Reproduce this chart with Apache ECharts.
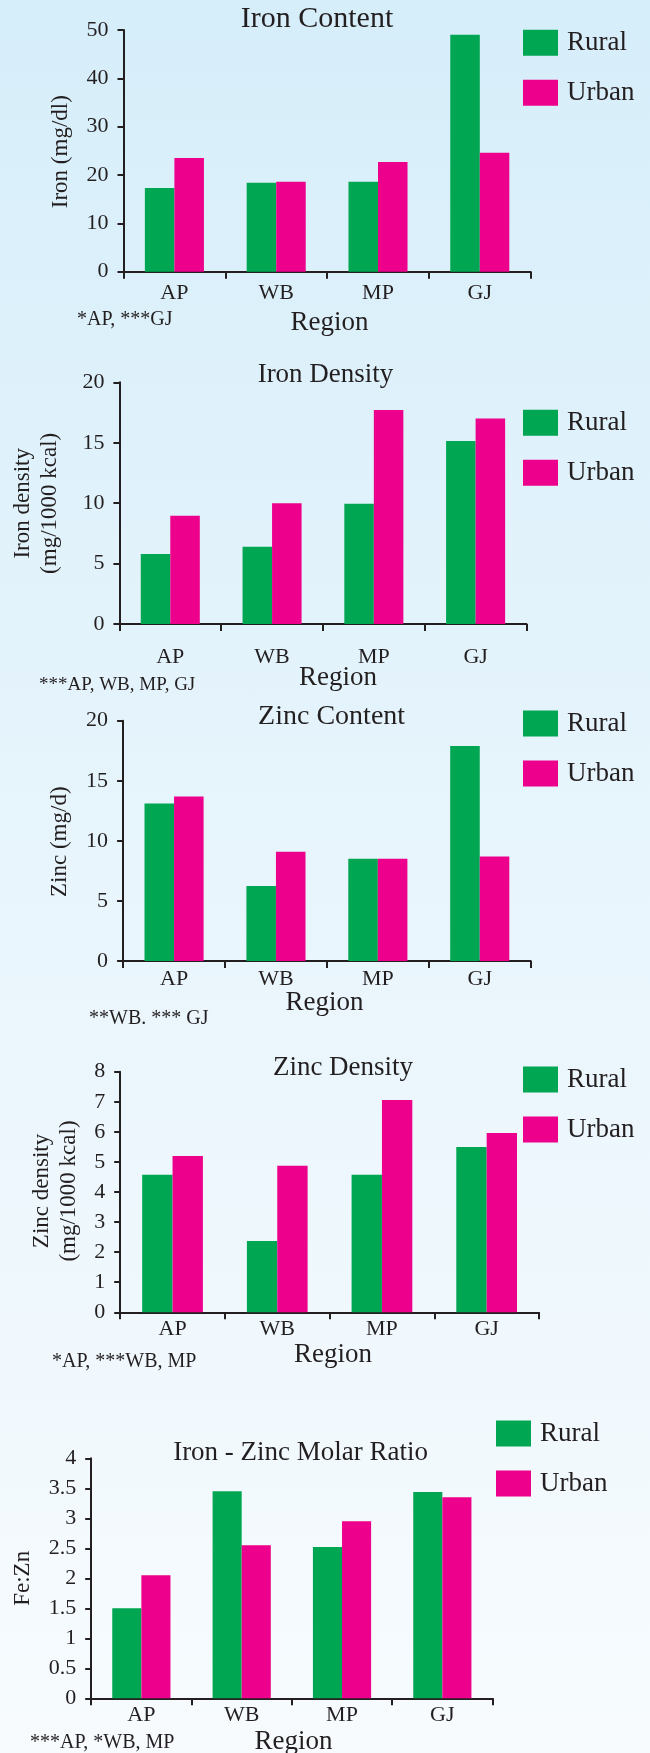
<!DOCTYPE html>
<html>
<head>
<meta charset="utf-8">
<script src="https://cdn.jsdelivr.net/npm/echarts@6/dist/echarts.min.js"></script>
<style>
  html, body { margin: 0; padding: 0; }
  body { width: 650px; height: 1753px; background: linear-gradient(to bottom, #d6eefa 0%, #e8f5fc 50%, #f7fbfe 100%); }
  #chart { width: 650px; height: 1753px; }
</style>
</head>
<body>
<div id="chart"></div>
<script>
// ---- data ----
const regions = ['AP', 'WB', 'MP', 'GJ'];
const seriesNames = ['Rural', 'Urban'];

const ironContentRural = [17.3, 18.4, 18.6, 49.0];
const ironContentUrban = [23.5, 18.6, 22.7, 24.6];

const ironDensityRural = [5.8, 6.4, 9.95, 15.15];
const ironDensityUrban = [8.95, 10.0, 17.7, 17.0];

const zincContentRural = [13.1, 6.25, 8.5, 17.9];
const zincContentUrban = [13.7, 9.1, 8.5, 8.7];

const zincDensityRural = [4.57, 2.37, 4.57, 5.5];
const zincDensityUrban = [5.2, 4.87, 7.06, 5.96];

const ratioRural = [1.5, 3.45, 2.52, 3.44];
const ratioUrban = [2.05, 2.55, 2.95, 3.35];

const titles = ['Iron Content', 'Iron Density', 'Zinc Content', 'Zinc Density', 'Iron - Zinc Molar Ratio'];
const yNames = ['Iron (mg/dl)', 'Iron density\n(mg/1000 kcal)', 'Zinc (mg/d)', 'Zinc density\n(mg/1000 kcal)', 'Fe:Zn'];
const xName = 'Region';
const footnotes = ['*AP, ***GJ', '***AP, WB, MP, GJ', '**WB. *** GJ', '*AP, ***WB, MP', '***AP, *WB, MP'];
const yMax = [50, 20, 20, 8, 4];
const yStep = [10, 5, 5, 1, 0.5];

const ruralData = [ironContentRural, ironDensityRural, zincContentRural, zincDensityRural, ratioRural];
const urbanData = [ironContentUrban, ironDensityUrban, zincContentUrban, zincDensityUrban, ratioUrban];

// ---- layout (positions / styles only) ----
const layout = [
  { grid: [123.5, 30, 407.2, 241.7], title: [317, 19, 30], legend: [523, 29.3], labelMargin: 11,
    region: [329.6, 323.3], foot: [77, 320, 20], yName: [61, 151.7] },
  { grid: [119.4, 382.3, 407.1, 241.7], title: [325.5, 375, 27], legend: [523, 409.3], labelMargin: 22,
    region: [338, 678.3], foot: [39, 685, 19], yName: [36.3, 503.3] },
  { grid: [123.1, 720.7, 407.6, 240.3], title: [331.6, 716.7, 28], legend: [523, 710], labelMargin: 7,
    region: [324.6, 1003.3], foot: [89, 1018.3, 20], yName: [60, 841.7] },
  { grid: [120.2, 1071.7, 418.8, 240.6], title: [343, 1068.3, 27], legend: [523, 1066], labelMargin: 6,
    region: [333, 1355], foot: [52, 1361.7, 20], yName: [55, 1191] },
  { grid: [91.2, 1458.3, 401.3, 240], title: [300.6, 1453.3, 27], legend: [496, 1420], labelMargin: 6,
    region: [293.5, 1741.7], foot: [30, 1743, 20], yName: [22.8, 1578.3] }
];

const FONT = "'Liberation Serif', 'Times New Roman', serif";
const INK = '#231f20';
const GREEN = '#00a651';
const MAGENTA = '#ec008c';

const grids = [], xAxes = [], yAxes = [], series = [], legends = [], graphics = [];

layout.forEach((L, i) => {
  grids.push({ left: L.grid[0], top: L.grid[1], width: L.grid[2], height: L.grid[3], containLabel: false });
  xAxes.push({
    type: 'category', gridIndex: i, data: regions,
    axisLine: { lineStyle: { color: INK, width: 2 } },
    axisTick: { show: true, length: 7, lineStyle: { color: INK, width: 2 } },
    axisLabel: { color: INK, fontFamily: FONT, fontSize: 22, margin: L.labelMargin }
  });
  yAxes.push({
    type: 'value', gridIndex: i, min: 0, max: yMax[i], interval: yStep[i],
    axisLine: { show: true, lineStyle: { color: INK, width: 2 } },
    axisTick: { show: true, length: 6, lineStyle: { color: INK, width: 2 } },
    splitLine: { show: false },
    axisLabel: { color: INK, fontFamily: FONT, fontSize: 22, margin: 15 }
  });
  series.push({
    name: seriesNames[0], type: 'bar', xAxisIndex: i, yAxisIndex: i, data: ruralData[i],
    itemStyle: { color: GREEN }, barGap: '0%', barCategoryGap: '42%'
  });
  series.push({
    name: seriesNames[1], type: 'bar', xAxisIndex: i, yAxisIndex: i, data: urbanData[i],
    itemStyle: { color: MAGENTA }, barGap: '0%', barCategoryGap: '42%'
  });
  legends.push({
    data: seriesNames, orient: 'vertical', left: L.legend[0], top: L.legend[1],
    padding: 0, itemWidth: 35, itemHeight: 26, itemGap: 23, icon: 'rect',
    textStyle: { color: INK, fontFamily: FONT, fontSize: 27, lineHeight: 26, padding: [0, 0, 0, 4] }
  });
  // title
  graphics.push({
    type: 'text', x: L.title[0], y: L.title[1],
    style: { text: titles[i], fill: INK, font: L.title[2] + 'px ' + FONT,
      textAlign: 'center', textVerticalAlign: 'middle', align: 'center', verticalAlign: 'middle' }
  });
  // x axis name
  graphics.push({
    type: 'text', x: L.region[0], y: L.region[1],
    style: { text: xName, fill: INK, font: '27px ' + FONT,
      textAlign: 'center', textVerticalAlign: 'middle', align: 'center', verticalAlign: 'middle' }
  });
  // footnote
  graphics.push({
    type: 'text', x: L.foot[0], y: L.foot[1],
    style: { text: footnotes[i], fill: INK, font: L.foot[2] + 'px ' + FONT,
      textAlign: 'left', textVerticalAlign: 'middle', align: 'left', verticalAlign: 'middle' }
  });
  // y axis name (rotated)
  graphics.push({
    type: 'text', x: L.yName[0], y: L.yName[1], rotation: Math.PI / 2,
    style: { text: yNames[i], fill: INK, font: '23px ' + FONT, lineHeight: 27,
      textAlign: 'center', textVerticalAlign: 'middle', align: 'center', verticalAlign: 'middle' }
  });
});

const chart = echarts.init(document.getElementById('chart'), null, { renderer: 'canvas' });
chart.setOption({
  backgroundColor: 'transparent',
  animation: false,
  grid: grids,
  xAxis: xAxes,
  yAxis: yAxes,
  legend: legends,
  series: series,
  graphic: graphics
});
</script>
</body>
</html>
